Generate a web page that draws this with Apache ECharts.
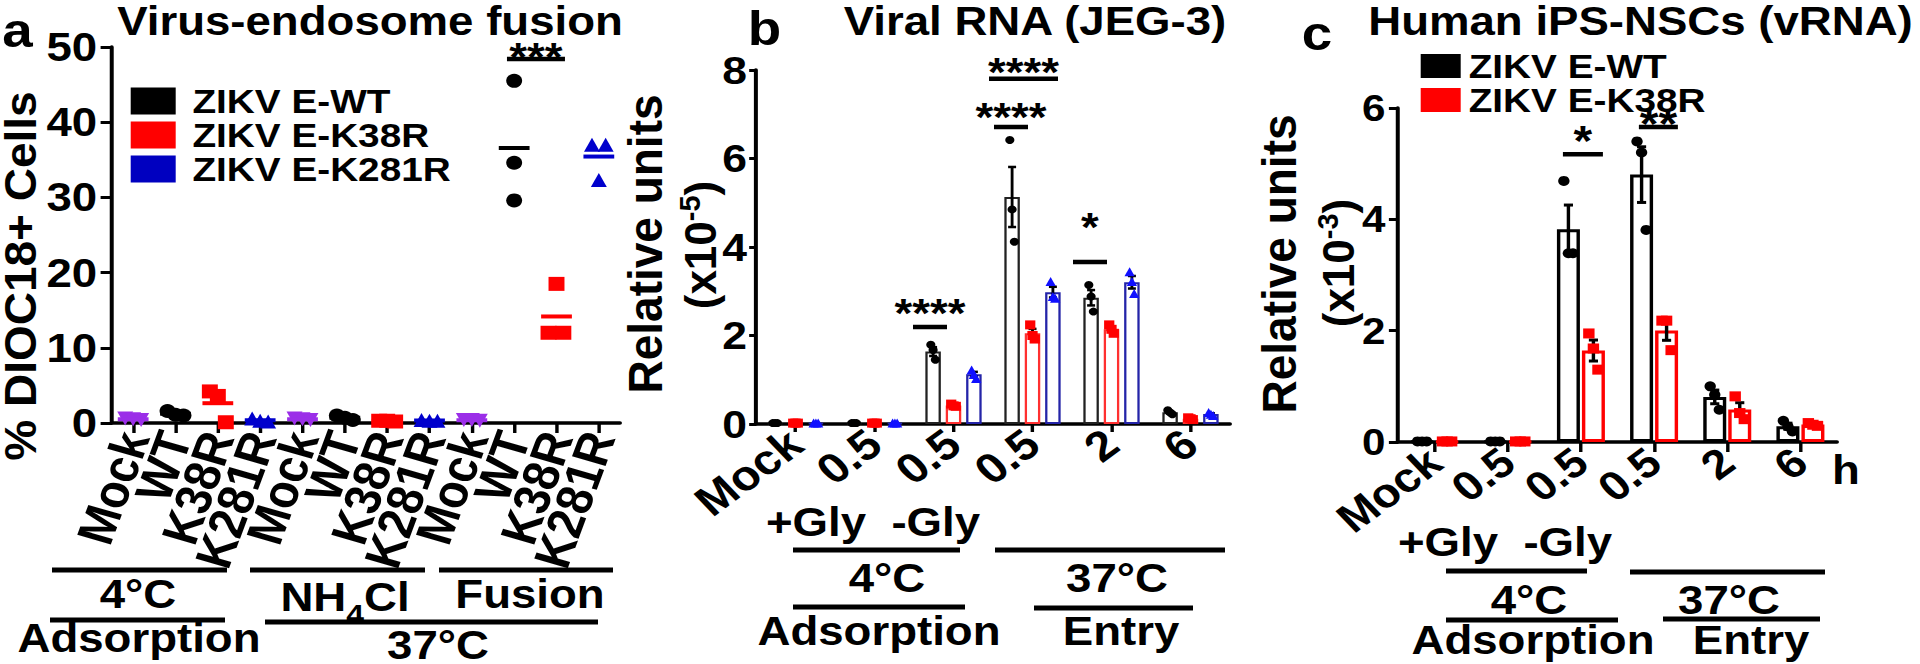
<!DOCTYPE html>
<html><head><meta charset="utf-8">
<script src="https://cdn.jsdelivr.net/npm/echarts@6/dist/echarts.min.js"></script>
<style>
html,body{margin:0;padding:0;background:#fff;overflow:hidden;width:1920px;height:664px;}
#chart{width:1684px;height:664px;transform:scaleX(1.1401);transform-origin:0 0;}
</style></head><body><div id="chart"></div>
<script>
// ---------- Panel a: Virus-endosome fusion (% DIOC18+ cells) ----------
const catsA = ['Mock','WT','K38R','K281R','Mock','WT','K38R','K281R','Mock','WT','K38R','K281R'];
const aMockCats = [0, 4, 8];
const aMockVals = [[0.6, 0.5, 0.4], [0.6, 0.5, 0.4], [0.4, 0.4, 0.3]];
const aWtCats = [1, 5, 9];
const aWtVals = [[1.6, 1.1, 1.0], [1.0, 0.7, 0.4], [45.5, 34.6, 29.6]];
const aK38Cats = [2, 6, 10];
const aK38Vals = [[4.2, 3.6, 0.1], [0.3, 0.3, 0.2], [18.5, 12.0, 12.0]];
const aK281Cats = [3, 7, 11];
const aK281Vals = [[0.6, 0.3, 0.2], [0.4, 0.3, 0.3], [37.0, 37.0, 32.3]];

// ---------- Panel b: Viral RNA (JEG-3), x10^-5 ----------
const catsB = ['Mock', '0.5', '0.5', '0.5', '2', '6'];
const bWt   = [[0.02,0.02,0.02],[0.02,0.02,0.02],[1.79,1.67,1.45],[6.42,4.85,4.12],[3.14,2.88,2.54],[0.31,0.26,0.22]];
const bK38  = [[0.02,0.02,0.02],[0.02,0.02,0.02],[0.45,0.41,0.40],[2.24,2.00,1.92],[2.24,2.14,2.05],[0.14,0.12,0.10]];
const bK281 = [[0.02,0.02,0.02],[0.02,0.02,0.02],[1.22,1.12,1.03],[3.22,2.88,2.84],[3.44,3.22,2.95],[0.26,0.22,0.19]];

// ---------- Panel c: Human iPS-NSCs (vRNA), x10^-3 ----------
const catsC = ['Mock', '0.5', '0.5', '0.5', '2', '6'];
const cWt  = [[0.01,0.01,0.01],[0.01,0.01,0.01],[4.69,3.39,3.39],[5.40,5.20,3.81],[1.00,0.85,0.58],[0.38,0.28,0.19]];
const cK38 = [[0.01,0.01,0.01],[0.01,0.01,0.01],[1.95,1.68,1.30],[2.18,2.18,1.65],[0.82,0.52,0.41],[0.34,0.31,0.29]];

// ---------- significance marks ----------
const sigACats = [9];           const sigALevels = [48.4]; const sigALabels = ['***'];
const sigBCats = [2, 3, 3, 4];  const sigBLevels = [2.19, 6.71, 7.80, 3.66]; const sigBLabels = ['****','****','****','*'];
const sigCCats = [2, 3];        const sigCLevels = [5.17, 5.66]; const sigCLabels = ['*', '**'];

// ---------- helpers ----------
const S = 1.1401;                 // horizontal stretch applied by CSS
const X = v => v / S;             // page x -> chart x
const FONT = '"Liberation Sans", Arial, Helvetica, sans-serif';
const mean = a => a.reduce((s, v) => s + v, 0) / a.length;
const sem = a => { const m = mean(a); return Math.sqrt(a.reduce((s, v) => s + (v - m) * (v - m), 0) / (a.length - 1)) / Math.sqrt(a.length); };

function xAx(gi, cats, rot, fs, margin, tl) {
  return { type: 'category', gridIndex: gi, data: cats, boundaryGap: true,
    axisLine: { show: true, onZero: false, lineStyle: { color: '#000', width: 3.5 } },
    axisTick: { show: true, alignWithLabel: true, length: tl, lineStyle: { color: '#000', width: 3 } },
    axisLabel: { interval: 0, rotate: rot, fontSize: fs, fontWeight: 'bold', color: '#000', fontFamily: FONT, margin: margin },
    splitLine: { show: false } };
}
function yAx(gi, max, interval, fs, margin, tl) {
  return { type: 'value', gridIndex: gi, min: 0, max: max, interval: interval,
    axisLine: { show: true, lineStyle: { color: '#000', width: 3.5 } },
    axisTick: { show: true, length: tl, lineStyle: { color: '#000', width: 3 } },
    axisLabel: { fontSize: fs, fontWeight: 'bold', color: '#000', fontFamily: FONT, margin: margin },
    splitLine: { show: false } };
}

const jitA = { 9: [0, 0, 0], 10: [0, -7, 6], 11: [-6, 6, 0] };
function scatterA(name, color, symbol, rot, cats, vals) {
  const data = [];
  cats.forEach((c, i) => vals[i].forEach((v, j) => {
    const jj = (jitA[c] || [-7, 0, 7])[j];
    data.push({ value: [c, v], symbolOffset: [jj, 0] });
  }));
  return { type: 'scatter', name: name, xAxisIndex: 0, yAxisIndex: 0, symbol: symbol, symbolRotate: rot,
    symbolSize: 14, itemStyle: { color: color, opacity: 1 }, data: data, clip: false, z: 4, silent: true };
}
function meanA(color, cats, vals) {
  return { type: 'scatter', name: 'mean', xAxisIndex: 0, yAxisIndex: 0, symbol: 'rect', symbolSize: [27, 4],
    itemStyle: { color: color, opacity: 1 }, data: cats.map((c, i) => [c, mean(vals[i])]), clip: false, z: 5, silent: true };
}
function barSeries(name, axis, vals, border, bw, bwidth, gap) {
  return { type: 'bar', name: name, xAxisIndex: axis, yAxisIndex: axis, barWidth: bwidth, barGap: gap,
    itemStyle: { color: '#fff', borderColor: border, borderWidth: bw }, data: vals.map(mean), z: 2, silent: true };
}
function errSeries(name, axis, vals, color, offset, lw, cap) {
  return { type: 'custom', name: name, xAxisIndex: axis, yAxisIndex: axis, z: 3, silent: true,
    data: vals.map((v, i) => [i, mean(v), sem(v)]),
    renderItem: (params, api) => {
      const c = api.value(0), m = api.value(1), s = api.value(2);
      const t = api.coord([c, m + s]), b = api.coord([c, m - s]);
      const x = t[0] + offset;
      const st = { stroke: color, lineWidth: lw };
      return { type: 'group', children: [
        { type: 'line', shape: { x1: x, y1: t[1], x2: x, y2: b[1] }, style: st },
        { type: 'line', shape: { x1: x - cap / 2, y1: t[1], x2: x + cap / 2, y2: t[1] }, style: st },
        { type: 'line', shape: { x1: x - cap / 2, y1: b[1], x2: x + cap / 2, y2: b[1] }, style: st } ] };
    } };
}
function pointSeries(name, axis, vals, color, symbol, size, offset, jit) {
  const data = [];
  vals.forEach((v, i) => v.forEach((p, j) => data.push({ value: [i, p], symbolOffset: [offset + jit[j], 0] })));
  return { type: 'scatter', name: name, xAxisIndex: axis, yAxisIndex: axis, symbol: symbol, symbolSize: size,
    itemStyle: { color: color, opacity: 1 }, data: data, clip: false, z: 4, silent: true };
}
function sigSeries(axis, cats, levels, labels, layout, fs) {
  return { type: 'custom', name: 'sig', xAxisIndex: axis, yAxisIndex: axis, z: 6, silent: true,
    data: cats.map((c, i) => [c, levels[i]]),
    renderItem: (params, api) => {
      const i = params.dataIndex;
      const L = layout[i];
      const p = api.coord([api.value(0), api.value(1)]);
      const cx = p[0] + X(L[0]), y = p[1], w = X(L[1]);
      return { type: 'group', children: [
        { type: 'line', shape: { x1: cx - w / 2, y1: y, x2: cx + w / 2, y2: y }, style: { stroke: '#000', lineWidth: 4.5 } },
        { type: 'text', style: { text: labels[i], x: cx, y: y - L[2] + 0.23 * fs, font: 'bold ' + fs + 'px ' + FONT,
          fill: '#000', align: 'center', verticalAlign: 'middle' } } ] };
    } };
}

// ---------- graphic helpers (x given in page px) ----------
function txt(x, y, text, size, rot, sy) {
  return { type: 'text', x: X(x), y: y, rotation: rot || 0, scaleY: sy || 1, silent: true,
    style: { text: text, font: 'bold ' + size + 'px ' + FONT, fill: '#000', align: 'center', verticalAlign: 'middle' } };
}
function richTxt(x, y, text, size, rot, rich, lh, sy) {
  return { type: 'text', x: X(x), y: y, rotation: rot || 0, scaleY: sy || 1, silent: true,
    style: { text: text, fontSize: size, fontWeight: 'bold', fontFamily: FONT, fill: '#000', align: 'center',
      verticalAlign: 'middle', lineHeight: lh, rich: rich } };
}
function hline(x1, x2, y, w) {
  return { type: 'line', silent: true, shape: { x1: X(x1), y1: y, x2: X(x2), y2: y }, style: { stroke: '#000', lineWidth: w || 5 } };
}
const supRich = { s: { fontSize: 29, fontWeight: 'bold', fontFamily: FONT, lineHeight: 24, verticalAlign: 'top' } };
const subRich = { s: { fontSize: 28, fontWeight: 'bold', fontFamily: FONT, lineHeight: 28, verticalAlign: 'bottom' } };
const R90 = Math.PI / 2;

const graphics = [
  txt(17.5, 30, 'a', 48), txt(370, 21, 'Virus-endosome fusion', 40),
  txt(764.5, 28, 'b', 48), txt(1035, 21, 'Viral RNA (JEG-3)', 40),
  txt(1317, 33, 'c', 48), txt(1640.5, 21, 'Human iPS-NSCs (vRNA)', 40),
  txt(21, 276, '% DIOC18+ Cells', 46, R90, 0.85),
  txt(645.5, 244, 'Relative units', 46, R90, 0.9),
  richTxt(700, 245, '(x10{s|-5})', 44, R90, supRich, 50, 0.9),
  txt(1280, 264, 'Relative units', 46, R90, 0.9),
  richTxt(1338, 263, '(x10{s|-3})', 44, R90, supRich, 50, 0.9),
  // panel a bottom
  hline(52, 227, 570), hline(250, 425, 570), hline(439, 613, 570),
  txt(138, 594, '4°C', 40), richTxt(345, 597, 'NH{s|4}Cl', 40, 0, subRich, 62), txt(530, 594, 'Fusion', 40),
  hline(50, 225, 620), hline(265, 598, 622),
  txt(139, 638, 'Adsorption', 40), txt(438, 645, '37°C', 40),
  // panel b bottom
  txt(873, 522, '+Gly  -Gly', 40),
  hline(793, 960, 550), hline(995, 1225, 550),
  txt(887, 578, '4°C', 40), txt(1117, 578, '37°C', 40),
  hline(793, 965, 607), hline(1034, 1193, 608),
  txt(879, 631, 'Adsorption', 40), txt(1121, 631, 'Entry', 40),
  // panel c bottom
  txt(1505, 542, '+Gly  -Gly', 40),
  hline(1446, 1587, 571), hline(1630, 1825, 572),
  txt(1529, 600, '4°C', 40), txt(1729, 600, '37°C', 40),
  hline(1446, 1618, 620), hline(1663, 1820, 619),
  txt(1533, 640, 'Adsorption', 40), txt(1751, 640, 'Entry', 40),
  txt(1846, 470, 'h', 40)
];

// bar geometry (chart px)
const BW_B = X(15.5), GAP_B = X(4.9), BW_C = X(23), GAP_C = X(2);
const offB = BW_B + GAP_B, offC = (BW_C + GAP_C) / 2;

const option = {
  animation: false,
  backgroundColor: '#fff',
  textStyle: { fontFamily: FONT, fontWeight: 'bold' },
  grid: [
    { left: X(112), top: 47, width: X(620) - X(112), height: 376 },
    { left: X(756), top: 70, width: X(1230) - X(756), height: 354 },
    { left: X(1398), top: 108, width: X(1837) - X(1398), height: 334 }
  ],
  xAxis: [ xAx(0, catsA, 72, 45, 10, 10), xAx(1, catsB, 40, 42, 14, 8), xAx(2, catsC, 40, 41, 14, 10) ],
  yAxis: [ yAx(0, 50, 10, 40, 13, 10), yAx(1, 8, 2, 39, 8, 6), yAx(2, 6, 2, 37, 11, 8) ],
  legend: [
    { left: X(125), top: 79, orient: 'vertical', icon: 'rect', itemWidth: X(45), itemHeight: 27, itemGap: 0, selectedMode: false,
      textStyle: { fontSize: 34, fontWeight: 'bold', fontFamily: FONT, color: '#000', lineHeight: 32, padding: [0, 0, 0, X(16.7) - 5] },
      data: [ { name: 'ZIKV E-WT', itemStyle: { color: '#000' } },
              { name: 'ZIKV E-K38R', itemStyle: { color: '#ff0000' } },
              { name: 'ZIKV E-K281R', itemStyle: { color: '#0000c0' } } ] },
    { left: X(1415), top: 44, orient: 'vertical', icon: 'rect', itemWidth: X(40), itemHeight: 24, itemGap: 0, selectedMode: false,
      textStyle: { fontSize: 34, fontWeight: 'bold', fontFamily: FONT, color: '#000', lineHeight: 28.5, padding: [0, 0, 0, X(8) - 5] },
      data: [ { name: 'ZIKV E-WT', itemStyle: { color: '#000' } },
              { name: 'ZIKV E-K38R', itemStyle: { color: '#ff0000' } } ] }
  ],
  series: [
    // panel a
    scatterA('ZIKV E-WT', '#000', 'circle', 0, aWtCats, aWtVals),
    scatterA('ZIKV E-K38R', '#ff0000', 'rect', 0, aK38Cats, aK38Vals),
    scatterA('ZIKV E-K281R', '#0000cc', 'triangle', 0, aK281Cats, aK281Vals),
    scatterA('Mock', '#9b2ee8', 'triangle', 180, aMockCats, aMockVals),
    meanA('#000', aWtCats, aWtVals), meanA('#ff0000', aK38Cats, aK38Vals),
    meanA('#0000cc', aK281Cats, aK281Vals), meanA('#9b2ee8', aMockCats, aMockVals),
    sigSeries(0, sigACats, sigALevels, sigALabels, [[21.8, 58, 11]], 40),
    // panel b
    barSeries('ZIKV E-WT', 1, bWt, '#222', 2, BW_B, (GAP_B / BW_B * 100).toFixed(1) + '%'),
    barSeries('ZIKV E-K38R', 1, bK38, '#ff3030', 2, BW_B, (GAP_B / BW_B * 100).toFixed(1) + '%'),
    barSeries('ZIKV E-K281R', 1, bK281, '#2424a8', 2, BW_B, (GAP_B / BW_B * 100).toFixed(1) + '%'),
    errSeries('errWtB', 1, bWt, '#000', -offB, 2.5, 7),
    errSeries('errK38B', 1, bK38, '#000', 0, 2.5, 7),
    errSeries('errK281B', 1, bK281, '#000', offB, 2.5, 7),
    pointSeries('ZIKV E-WT', 1, bWt, '#000', 'circle', 8, -offB, [-2, 0, 2]),
    pointSeries('ZIKV E-K38R', 1, bK38, '#ff0000', 'rect', 9, 0, [-2, 0, 2]),
    pointSeries('ZIKV E-K281R', 1, bK281, '#1010ff', 'triangle', 9, offB, [-2, 0, 2]),
    sigSeries(1, sigBCats, sigBLevels, sigBLabels,
      [[-23.5, 34, 23], [-21.5, 34, 19.5], [-9, 69, 16.5], [-21.5, 34, 44]], 40),
    // panel c
    barSeries('ZIKV E-WT', 2, cWt, '#000', 3, BW_C, (GAP_C / BW_C * 100).toFixed(1) + '%'),
    barSeries('ZIKV E-K38R', 2, cK38, '#ff0000', 3, BW_C, (GAP_C / BW_C * 100).toFixed(1) + '%'),
    errSeries('errWtC', 2, cWt, '#000', -offC, 3, 8),
    errSeries('errK38C', 2, cK38, '#000', offC, 3, 8),
    pointSeries('ZIKV E-WT', 2, cWt, '#000', 'circle', 10, -offC, [-4, 0, 4]),
    pointSeries('ZIKV E-K38R', 2, cK38, '#ff0000', 'rect', 10, offC, [-4, 0, 4]),
    sigSeries(2, sigCCats, sigCLevels, sigCLabels, [[2, 40, 23], [4.3, 39, 13]], 42)
  ],
  graphic: { elements: graphics }
};

const chart = echarts.init(document.getElementById('chart'), null, { renderer: 'svg', width: 1684, height: 664 });
chart.setOption(option);
</script></body></html>
